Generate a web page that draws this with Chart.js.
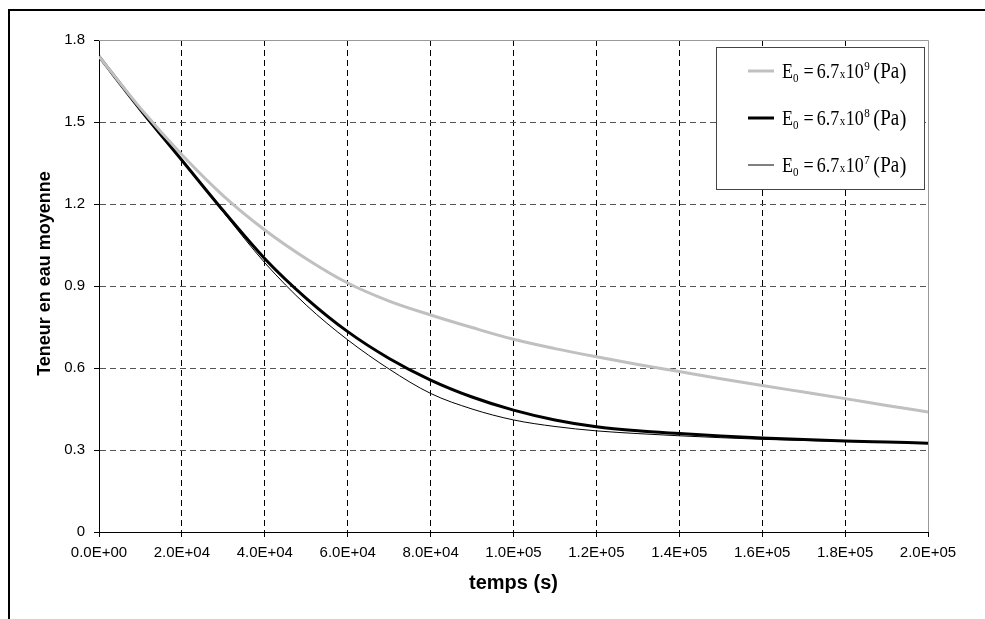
<!DOCTYPE html>
<html lang="fr">
<head>
<meta charset="UTF-8">
<title>Teneur en eau moyenne</title>
<script src="https://cdn.jsdelivr.net/npm/chart.js"></script>
<style>
    html, body { margin: 0; padding: 0; background: #fff; }
    #wrap { width: 985px; height: 619px; position: relative; }
</style>
</head>
<body>
<div id="wrap"><canvas id="chart"></canvas></div>
<script>
    // temps (s)
    const timeValues = [0, 10000, 20000, 30000, 40000, 50000, 60000, 70000, 80000, 90000, 100000,
        110000, 120000, 130000, 140000, 150000, 160000, 170000, 180000, 190000, 200000];

    // teneur en eau moyenne, une liste par module E0
    const waterE9 = [1.74, 1.55, 1.38, 1.23, 1.105, 1.0, 0.911, 0.845, 0.794, 0.748, 0.705,
        0.671, 0.641, 0.613, 0.587, 0.561, 0.536, 0.512, 0.488, 0.463, 0.439];
    const waterE8 = [1.74, 1.545, 1.36, 1.175, 1.0, 0.855, 0.733, 0.635, 0.556, 0.494, 0.446,
        0.410, 0.385, 0.370, 0.360, 0.351, 0.344, 0.338, 0.333, 0.329, 0.325];
    const waterE7 = [1.74, 1.545, 1.36, 1.17, 0.985, 0.83, 0.703, 0.596, 0.507, 0.450, 0.410,
        0.386, 0.370, 0.360, 0.352, 0.345, 0.339, 0.335, 0.331, 0.328, 0.325];

    const xTickLabels = ['0.0E+00', '2.0E+04', '4.0E+04', '6.0E+04', '8.0E+04', '1.0E+05',
        '1.2E+05', '1.4E+05', '1.6E+05', '1.8E+05', '2.0E+05'];
    const yTickLabels = ['0', '0.3', '0.6', '0.9', '1.2', '1.5', '1.8'];

    // exposants de la légende : E0 = 6.7x10^n (Pa)
    const legendExponents = ['9', '8', '7'];

    Chart.defaults.font.family = '"Liberation Sans", Arial, sans-serif';
    Chart.defaults.color = '#000';

    function pts(values) {
        return values.map((v, i) => ({x: timeValues[i], y: v}));
    }

    // cadre extérieur, bords gris du tracé et légende encadrée
    const decor = {
        id: 'decor',
        beforeDraw(chart) {
            const ctx = chart.ctx;
            ctx.save();
            ctx.fillStyle = '#fff';
            ctx.fillRect(0, 0, chart.width, chart.height);
            ctx.strokeStyle = '#000';
            ctx.lineWidth = 2;
            ctx.beginPath();
            ctx.moveTo(9, chart.height);
            ctx.lineTo(9, 10);
            ctx.lineTo(chart.width, 10);
            ctx.stroke();
            ctx.restore();
        },
        afterDatasetsDraw(chart) {
            const ctx = chart.ctx;
            const a = chart.chartArea;
            ctx.save();
            ctx.strokeStyle = '#999';
            ctx.lineWidth = 1;
            ctx.beginPath();
            ctx.moveTo(a.left, a.top + 0.5);
            ctx.lineTo(a.right + 0.5, a.top + 0.5);
            ctx.lineTo(a.right + 0.5, a.bottom);
            ctx.stroke();

            // légende
            const bx = 716, by = 47, bw = 208, bh = 142;
            ctx.fillStyle = '#fff';
            ctx.fillRect(bx, by, bw, bh);
            ctx.strokeStyle = '#444';
            ctx.strokeRect(bx + 0.5, by + 0.5, bw, bh);

            const serif = '"Liberation Serif", "Times New Roman", serif';
            chart.data.datasets.forEach((ds, i) => {
                const cy = 71 + i * 47;
                ctx.strokeStyle = ds.borderColor;
                ctx.lineWidth = ds.borderWidth;
                ctx.beginPath();
                ctx.moveTo(748, cy);
                ctx.lineTo(774, cy);
                ctx.stroke();

                ctx.save();
                ctx.fillStyle = '#000';
                ctx.textBaseline = 'alphabetic';
                ctx.translate(0, cy + 7);
                ctx.scale(1, 1.2);
                let x = 782;
                const put = (txt, size, dy, gap) => {
                    ctx.font = size + 'px ' + serif;
                    ctx.fillText(txt, x, dy);
                    x += ctx.measureText(txt).width + (gap || 0);
                };
                put('E', 18, 0);
                put('0', 11, 3, 5);
                put('=', 18, 0, 3);
                put('6.7', 18, 0, 0.5);
                put('x', 11, 0, 0.5);
                put('10', 18, 0, 0.5);
                put(legendExponents[i], 11, -7, 3.5);
                put('(', 20, 0.5, 0.5);
                put('Pa', 19, 0, 0.5);
                put(')', 20, 0.5);
                ctx.restore();
            });
            ctx.restore();
        }
    };

    new Chart(document.getElementById('chart'), {
        type: 'line',
        data: {
            datasets: [
                {label: 'E0 = 6.7x10^9 (Pa)', data: pts(waterE9), borderColor: '#c0c0c0', borderWidth: 3},
                {label: 'E0 = 6.7x10^8 (Pa)', data: pts(waterE8), borderColor: '#000', borderWidth: 3},
                {label: 'E0 = 6.7x10^7 (Pa)', data: pts(waterE7), borderColor: '#000', borderWidth: 1}
            ]
        },
        options: {
            responsive: true,
            maintainAspectRatio: false,
            animation: false,
            elements: {
                point: {radius: 0},
                line: {cubicInterpolationMode: 'monotone'}
            },
            layout: {padding: {left: 10, top: 40, right: 57, bottom: 0}},
            plugins: {
                legend: {display: false},
                tooltip: {enabled: false}
            },
            scales: {
                x: {
                    type: 'linear',
                    min: 0,
                    max: 200000,
                    afterFit: s => { s.height = 87; },
                    ticks: {
                        stepSize: 20000,
                        autoSkip: false,
                        maxRotation: 0,
                        padding: 7,
                        font: {size: 15},
                        callback: (v, i) => xTickLabels[i]
                    },
                    grid: {
                        color: c => (c.index === 0 || c.index === xTickLabels.length - 1) ? 'transparent' : '#000',
                        tickColor: '#000',
                        tickLength: 5
                    },
                    border: {color: '#000', width: 1, dash: [6, 4]},
                    title: {
                        display: true,
                        text: 'temps (s)',
                        font: {size: 20, weight: 'bold'},
                        padding: {bottom: 24}
                    }
                },
                y: {
                    min: 0,
                    max: 1.8,
                    afterFit: s => { s.width = 89; },
                    ticks: {
                        stepSize: 0.3,
                        padding: 9,
                        font: {size: 15},
                        callback: (v, i) => yTickLabels[i]
                    },
                    grid: {
                        color: c => (c.index === 0 || c.index === yTickLabels.length - 1) ? 'transparent' : '#555',
                        tickColor: '#000',
                        tickLength: 5
                    },
                    border: {color: '#000', width: 1, dash: [6, 4]},
                    title: {
                        display: true,
                        text: '\u00A0\u00A0\u00A0\u00A0\u00A0Teneur en eau moyenne',
                        font: {size: 18, weight: 'bold'},
                        padding: {top: 24}
                    }
                }
            }
        },
        plugins: [decor]
    });
</script>
</body>
</html>
